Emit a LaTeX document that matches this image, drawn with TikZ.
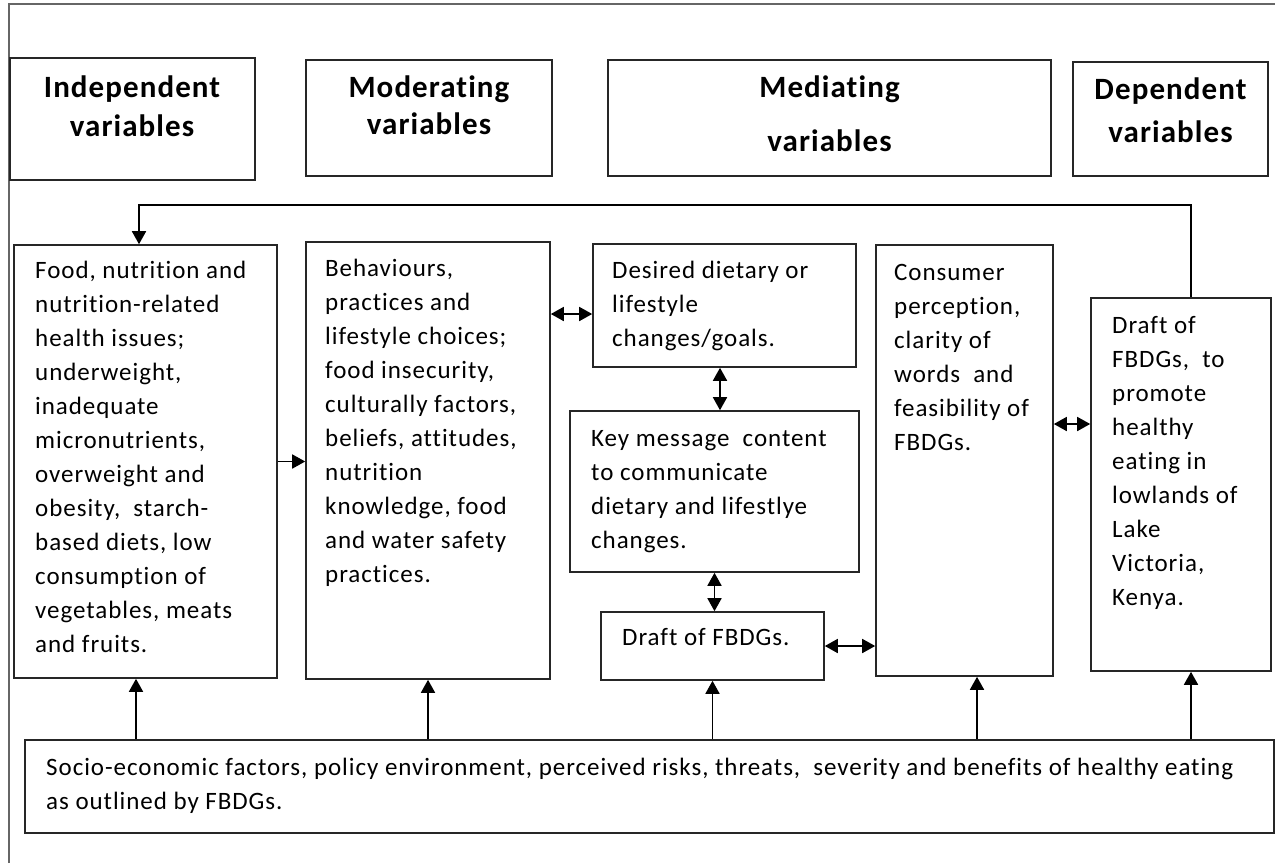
\documentclass[tikz,border=0pt]{standalone}
\usepackage{fontspec}
\setmainfont{Carlito}
\newfontfamily\bodyfont[LetterSpace=3.8,Ligatures=NoCommon]{Carlito}
\newfontfamily\headfont[LetterSpace=3.5,Ligatures=NoCommon]{Carlito}
\usetikzlibrary{arrows.meta}
\begin{document}
\begin{tikzpicture}[x=1pt,y=-1pt,
  box/.style={draw=black!85,line width=1.6pt,inner sep=0pt},
  txt/.style={inner sep=0pt,anchor=base west,font=\bodyfont\fontsize{25}{34}\selectfont},
  htxt/.style={inner sep=0pt,anchor=base,font=\headfont\fontsize{31}{39}\selectfont\bfseries},
  tip/.tip={Triangle[length=13pt,width=14pt]},
  arr/.style={line width=1.7pt,-tip},
  darr/.style={line width=1.7pt,tip-tip},
  frame/.style={draw=black!60,line width=1.3pt}]
\useasboundingbox (0,0) rectangle (1275,863);
% page frame (top and left rules)
\draw[frame] (9,863) -- (9,4) -- (1275,4);

% column headings
\node[box,minimum width=245pt,minimum height=122pt] (h1) at (132.5,119) {};
\node[box,minimum width=246pt,minimum height=116pt] (h2) at (429,118) {};
\node[box,minimum width=443pt,minimum height=116pt] (h3) at (829.5,118) {};
\node[box,minimum width=195pt,minimum height=114pt] (h4) at (1170.5,119) {};
\node[htxt] (ht1) at (132,97) {\parbox[t]{240pt}{\centering Independent\\variables}};
\node[htxt] (ht2) at (429,97) {\parbox[t]{240pt}{\centering Moderating\\[-2pt]variables}};
\node[htxt] (ht3) at (829.5,97) {\parbox[t]{400pt}{\centering Mediating\\[15pt]variables}};
\node[htxt] (ht4) at (1170.5,99) {\parbox[t]{190pt}{\centering Dependent\\[4pt]variables}};

% content boxes
\node[box,minimum width=263pt,minimum height=433pt] (b1) at (145.5,461.5) {};
\node[box,minimum width=244pt,minimum height=437pt] (b2) at (428,460.5) {};
\node[box,minimum width=263pt,minimum height=123pt] (b3) at (724.5,305.5) {};
\node[box,minimum width=289pt,minimum height=161pt] (b4) at (714.5,491.5) {};
\node[box,minimum width=223pt,minimum height=68pt] (b5) at (712.5,646) {};
\node[box,minimum width=177pt,minimum height=431pt] (b6) at (964.5,460.5) {};
\node[box,minimum width=180pt,minimum height=373pt] (b7) at (1181,484.5) {};
\node[box,minimum width=1249pt,minimum height=93pt] (bot) at (649.5,786.5) {};

% box texts
\node[txt] (t1) at (35,278) {\parbox[t]{240pt}{\raggedright Food, nutrition and\\nutrition-related\\health issues;\\underweight,\\inadequate\\micronutrients,\\overweight and\\obesity,\ \ starch-\\based diets, low\\consumption of\\vegetables, meats\\and fruits.}};
\node[txt] (t2) at (325,276) {\parbox[t]{220pt}{\raggedright Behaviours,\\practices and\\lifestyle choices;\\food insecurity,\\culturally factors,\\beliefs, attitudes,\\nutrition\\knowledge, food\\and water safety\\practices.}};
\node[txt] (t3) at (612,278) {\parbox[t]{240pt}{\raggedright Desired dietary or\\lifestyle\\changes/goals.}};
\node[txt] (t4) at (591,446) {\parbox[t]{270pt}{\raggedright Key message\ \ content\\to communicate\\dietary and lifestlye\\changes.}};
\node[txt] (t5) at (622,645) {Draft of FBDGs.};
\node[txt] (t6) at (894,280) {\parbox[t]{160pt}{\raggedright Consumer\\perception,\\clarity of\\words\ \ and\\feasibility of\\FBDGs.}};
\node[txt] (t7) at (1112,333) {\parbox[t]{160pt}{\raggedright Draft of\\FBDGs,\ \ to\\promote\\healthy\\eating in\\lowlands of\\Lake\\Victoria,\\Kenya.}};
\node[txt] (t8) at (46,775) {\parbox[t]{1225pt}{\raggedright Socio-economic factors, policy environment, perceived risks, threats,\ \ severity and benefits of healthy eating\\as outlined by FBDGs.}};

% links between the content boxes
\draw[arr] (b1.east) -- (b1.east -| b2.west);
\draw[darr] ([yshift=-8.5pt]b3.west -| b2.east) -- ([yshift=-8.5pt]b3.west);
\draw[darr] ([xshift=-4.5pt]b3.south) -- ([xshift=-4.5pt]b3.south |- b4.north);
\draw[darr] (b4.south) -- (b4.south |- b5.north);
\draw[darr] (b5.east) -- (b5.east -| b6.west);
\draw[darr] ([yshift=36.5pt]b6.east) -- ([yshift=36.5pt]b6.east -| b7.west);

% feedback from the dependent variable to the independent variables
\coordinate (fb) at (0,205);
\draw[arr] ([xshift=10pt]b7.north) -- ([xshift=10pt]b7.north |- fb)
  -- ([xshift=-6.5pt]b1.north |- fb) -- ([xshift=-6.5pt]b1.north);

% influences of the bottom factors
\draw[arr] ([xshift=-9.5pt]b1.south |- bot.north) -- ([xshift=-9.5pt]b1.south);
\draw[arr] (b2.south |- bot.north) -- (b2.south);
\draw[arr] (b5.south |- bot.north) -- (b5.south);
\draw[arr] ([xshift=12.5pt]b6.south |- bot.north) -- ([xshift=12.5pt]b6.south);
\draw[arr] ([xshift=10pt]b7.south |- bot.north) -- ([xshift=10pt]b7.south);
\end{tikzpicture}
\end{document}
